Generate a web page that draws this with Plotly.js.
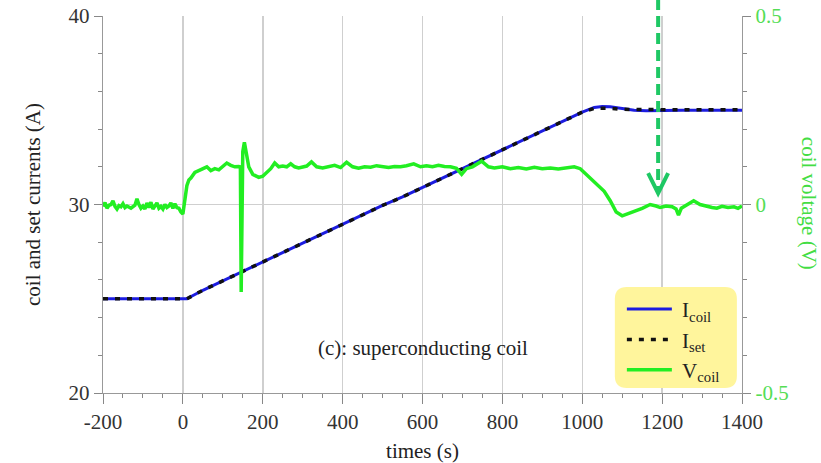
<!DOCTYPE html>
<html>
<head>
<meta charset="utf-8">
<script src="https://cdn.plot.ly/plotly-3.0.1.min.js"></script>
<style>html,body{margin:0;padding:0;background:#fff;}#chart{width:821px;height:463px;}</style>
</head>
<body>
<div id="chart"></div>
<script>
// ---- data ----
const tI = [-200,-150,-100,-50,0,10,50,100,150,200,250,300,350,400,450,500,550,600,650,700,750,800,850,900,950,1000,1030,1050,1070,1100,1130,1160,1200,1250,1300,1350,1400];
const Icoil = [25.0,25.0,25.0,25.0,25.0,25.0,25.45,25.95,26.45,26.95,27.45,27.95,28.45,28.95,29.45,29.95,30.4,30.9,31.4,31.9,32.4,32.9,33.4,33.9,34.4,34.9,35.15,35.2,35.18,35.08,35.0,34.98,35.0,35.0,35.0,35.0,35.0];
const Iset  = [25.0,25.0,25.0,25.0,25.0,25.0,25.45,25.95,26.45,26.95,27.45,27.95,28.45,28.95,29.45,29.95,30.4,30.9,31.4,31.9,32.4,32.9,33.4,33.9,34.4,34.9,35.1,35.12,35.1,35.05,35.03,35.03,35.03,35.03,35.03,35.03,35.03];

const tV = [-200,-195,-190,-185,-180,-175,-170,-165,-160,-155,-150,-145,-140,-130,-120,-115,-110,-105,-100,-95,-90,-85,-80,-75,-70,-65,-60,-55,-50,-45,-40,-35,-30,-25,-20,-15,-10,-5,0,5,10,15,20,30,40,50,60,70,80,90,100,110,120,130,140,144,146,148,150,154,158,165,175,190,200,210,220,230,240,250,260,270,280,290,300,310,322,335,350,365,380,395,410,425,440,455,470,485,500,515,530,545,560,578,595,610,625,640,655,670,685,698,710,725,748,765,780,800,820,840,860,880,900,920,940,960,980,995,1010,1025,1040,1055,1070,1085,1100,1115,1130,1150,1170,1185,1195,1210,1225,1235,1241,1248,1265,1279,1295,1310,1325,1337,1350,1365,1380,1390,1400];
const Vcoil = [-0.005,0.005,-0.01,-0.002,0.0,0.01,-0.005,-0.012,-0.003,-0.006,0.002,-0.008,-0.004,-0.01,-0.002,0.015,0.0,-0.01,-0.004,-0.012,0.004,-0.008,0.006,-0.012,-0.004,0.004,-0.01,-0.005,-0.012,0.0,-0.008,-0.004,0.004,-0.01,0.002,-0.008,-0.01,-0.02,-0.025,0.02,0.05,0.065,0.07,0.085,0.09,0.095,0.1,0.09,0.095,0.092,0.1,0.11,0.104,0.1,0.101,0.1,-0.232,0.1,0.14,0.165,0.14,0.1,0.08,0.072,0.075,0.085,0.095,0.11,0.1,0.102,0.1,0.108,0.1,0.097,0.1,0.102,0.113,0.1,0.097,0.1,0.104,0.098,0.112,0.1,0.096,0.1,0.099,0.103,0.1,0.098,0.101,0.1,0.103,0.108,0.1,0.103,0.1,0.104,0.101,0.1,0.096,0.08,0.095,0.1,0.115,0.1,0.097,0.1,0.095,0.098,0.094,0.099,0.095,0.097,0.094,0.096,0.1,0.095,0.08,0.068,0.05,0.035,0.01,-0.02,-0.03,-0.025,-0.018,-0.01,0.0,-0.004,-0.008,-0.004,-0.006,-0.012,-0.028,-0.01,0.0,0.01,0.0,-0.005,-0.008,-0.01,-0.005,-0.008,-0.006,-0.01,-0.004];

const xTicks = [-200,0,200,400,600,800,1000,1200,1400];
const xTickText = ['-200','0','200','400','600','800','1000','1200','1400'];
const yTicks = [20,30,40];
const yTickText = ['20','30','40'];
const y2Ticks = [-0.5,0,0.5];
const y2TickText = ['-0.5','0','0.5'];
const arrowT = 1190;           // time of the dashed marker arrow
const annotationText = '(c): superconducting coil';

// ---- chart ----
const SERIF = 'Liberation Serif, Times New Roman, serif';
const xRange = [-200,1400];
const px = t => (t - xRange[0]) / (xRange[1] - xRange[0]);
const NB = '\u00A0';

const traces = [
  {x: tI, y: Icoil, type:'scatter', mode:'lines', name:NB+'I<sub>coil</sub>',
   line:{color:'#1c1ce0', width:3}},
  {x: tI, y: Iset, type:'scatter', mode:'lines', name:NB+'I<sub>set</sub>',
   line:{color:'#111111', width:3.5, dash:'5px,7px'}},
  {x: tV, y: Vcoil, type:'scatter', mode:'lines', name:NB+'V<sub>coil</sub>', yaxis:'y2',
   line:{color:'#22ee22', width:3.5}}
];

const ax = a => Object.assign({
  showline:true, linecolor:'#999', linewidth:1.2, ticks:'outside', tickcolor:'#888',
  zeroline:false, tickmode:'array', fixedrange:true,
  tickfont:{family:SERIF, size:21, color:'#333'}
}, a);

const ax_ = ax({range:xRange, tickvals:xTicks, ticktext:xTickText, ticklen:10,
  showgrid:true, gridcolor:'#cfcfcf', gridwidth:1.5,
  minor:{tickmode:'linear', tick0:-200, dtick:50, ticklen:4, ticks:'outside', tickcolor:'#888', showgrid:false},
  title:{text:'times (s)', font:{family:SERIF, size:21, color:'#222'}, standoff:10}});

const layout = {
  width:821, height:463,
  margin:{l:103, r:79, t:16, b:70},
  paper_bgcolor:'#fff', plot_bgcolor:'#fff',
  showlegend:true,
  xaxis: ax_,
  yaxis: ax({range:[20,40], tickvals:yTicks, ticktext:yTickText, ticklen:8,
    showgrid:true, gridcolor:'#cfcfcf', gridwidth:1.5,
    minor:{tickmode:'linear', tick0:20, dtick:2, ticklen:4, ticks:'outside', tickcolor:'#888', showgrid:false},
    title:{text:'coil and set currents (A)', font:{family:SERIF, size:21, color:'#222'}, standoff:22}}),
  yaxis2: ax({range:[-0.5,0.5], overlaying:'y', side:'right', tickvals:y2Ticks, ticktext:y2TickText, ticklen:8,
    showgrid:false, tickfont:{family:SERIF, size:21, color:'#55dd55'},
    minor:{tickmode:'linear', tick0:-0.5, dtick:0.1, ticklen:4, ticks:'outside', tickcolor:'#888', showgrid:false}}),
  legend:{x:0.812, xanchor:'left', y:0.276, yanchor:'top', bgcolor:'rgba(0,0,0,0)',
    font:{family:SERIF, size:21, color:'#222'}, itemwidth:45, tracegroupgap:0},
  annotations:[
    {text:annotationText, xref:'paper', yref:'paper', x:0.5, y:0.082, showarrow:false,
     font:{family:SERIF, size:21, color:'#222'}},
    {text:'coil voltage (V)', xref:'paper', yref:'paper', x:1.127, y:0.504, showarrow:false,
     textangle:90, font:{family:SERIF, size:21, color:'#44dd44'}}
  ],
  shapes:[
    // rounded yellow legend box
    (function(){
      const x0=0.801, x1=0.992, y0=0.0133, y1=0.281, rx=12/639, ry=12/377;
      return {type:'path', xref:'paper', yref:'paper', layer:'above', fillcolor:'#fff59c', line:{width:0},
        path:`M${x0+rx},${y0} L${x1-rx},${y0} Q${x1},${y0} ${x1},${y0+ry} L${x1},${y1-ry} Q${x1},${y1} ${x1-rx},${y1} L${x0+rx},${y1} Q${x0},${y1} ${x0},${y1-ry} L${x0},${y0+ry} Q${x0},${y0} ${x0+rx},${y0} Z`};
    })(),
    {type:'line', xref:'paper', yref:'paper', x0:px(arrowT), x1:px(arrowT), y0:1.045, y1:0.54,
     line:{color:'#1ec864', width:4, dash:'11px,6px'}, layer:'above'},
    {type:'path', xref:'paper', yref:'paper', layer:'above', line:{color:'#1ec864', width:4},
     path:`M${px(arrowT)-10/639},${0.53+20/377} L${px(arrowT)},0.53 L${px(arrowT)+10/639},${0.53+20/377}`}
  ]
};

Plotly.newPlot('chart', traces, layout, {staticPlot:true, displayModeBar:false});
</script>
</body>
</html>
